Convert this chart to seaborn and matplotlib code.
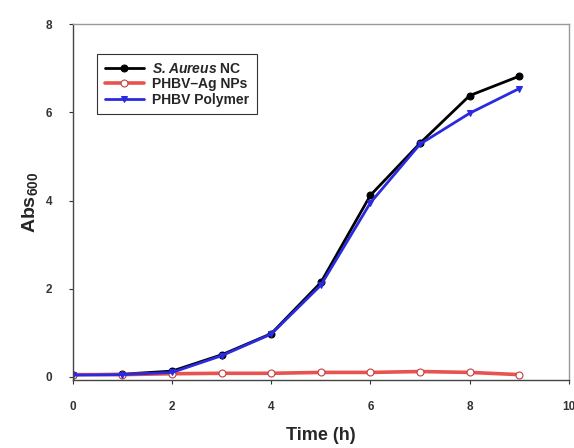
import numpy as np
import pandas as pd
import matplotlib
matplotlib.use("Agg")
import matplotlib.pyplot as plt
import seaborn as sns

# ------------------ data ------------------
time_h = [0, 1, 2, 3, 4, 5, 6, 7, 8, 9]
s_aureus_nc = [0.05, 0.06, 0.13, 0.50, 0.98, 2.14, 4.12, 5.30, 6.38, 6.82]
phbv_ag_nps = [0.05, 0.05, 0.07, 0.08, 0.08, 0.10, 0.10, 0.12, 0.10, 0.05]
phbv_polymer = [0.04, 0.05, 0.10, 0.48, 0.97, 2.08, 3.95, 5.28, 5.98, 6.54]

labels = [r"$\mathbfit{S.Aureus}$ NC", "PHBV\u2013Ag NPs", "PHBV Polymer"]

df = pd.concat([
    pd.DataFrame({"time": time_h, "abs": s_aureus_nc, "series": labels[0]}),
    pd.DataFrame({"time": time_h, "abs": phbv_ag_nps, "series": labels[1]}),
    pd.DataFrame({"time": time_h, "abs": phbv_polymer, "series": labels[2]}),
], ignore_index=True)

# ------------------ style ------------------
sns.set_style("white")
plt.rcParams['font.family'] = ['Liberation Sans', 'DejaVu Sans']
plt.rcParams['font.weight'] = 'bold'
plt.rcParams['mathtext.fontset'] = 'custom'
plt.rcParams['mathtext.bf'] = 'Liberation Sans:bold'
plt.rcParams['mathtext.bfit'] = 'Liberation Sans:italic:bold'
plt.rcParams['mathtext.default'] = 'bf'

palette = {labels[0]: "black", labels[1]: "#e8534f", labels[2]: "#2a2ae0"}
markers = {labels[0]: "o", labels[1]: "o", labels[2]: "v"}

fig = plt.figure(figsize=(5.74, 4.48), dpi=100)
ax = fig.add_axes([0.127, 0.152, 0.864, 0.794])

sns.lineplot(data=df, x="time", y="abs", hue="series", style="series",
             palette=palette, markers=markers, dashes=False, lw=2,
             markersize=5, ax=ax, legend=True)

# open circles for the Ag series, thicker pink line
for line in ax.lines:
    if line.get_color() == "#e8534f":
        line.set_markerfacecolor("white")
        line.set_markeredgecolor("#c04040")
        line.set_markeredgewidth(0.8)
        line.set_linewidth(2.6)
    elif line.get_color() in ("black", "#2a2ae0"):
        line.set_markeredgecolor(line.get_color())

ax.set_xlim(0, 10)
ax.set_ylim(-0.07, 8)
ax.set_xticks([0, 2, 4, 6, 8, 10])
ax.set_yticks([0, 2, 4, 6, 8])
ax.tick_params(axis="both", direction="out", length=3, width=0.8,
               labelsize=8.5, colors="#333333", bottom=True, left=True)
ax.tick_params(axis="x", pad=12)
ax.tick_params(axis="y", pad=12)
for lbl in ax.get_xticklabels() + ax.get_yticklabels():
    lbl.set_fontweight("bold")

for side in ["left", "bottom"]:
    ax.spines[side].set_color("#444444")
    ax.spines[side].set_linewidth(1)
for side in ["top", "right"]:
    ax.spines[side].set_color("#999999")
    ax.spines[side].set_linewidth(1)

ax.set_xlabel("Time (h)", fontsize=13, fontweight="bold", labelpad=10)
ax.set_ylabel(r"Abs$_{600}$", fontsize=14, fontweight="bold", labelpad=4)

handles, _ = ax.get_legend_handles_labels()
leg = ax.legend(handles=handles, labels=labels, loc="upper left",
                bbox_to_anchor=(0.035, 0.935), frameon=True, fancybox=False,
                edgecolor="black", fontsize=10, handlelength=2.8,
                borderpad=0.55, labelspacing=0.1, handletextpad=0.6)
leg.get_frame().set_linewidth(0.8)
for t in leg.get_texts():
    t.set_fontweight("bold")

fig.savefig("out.png", dpi=100)
